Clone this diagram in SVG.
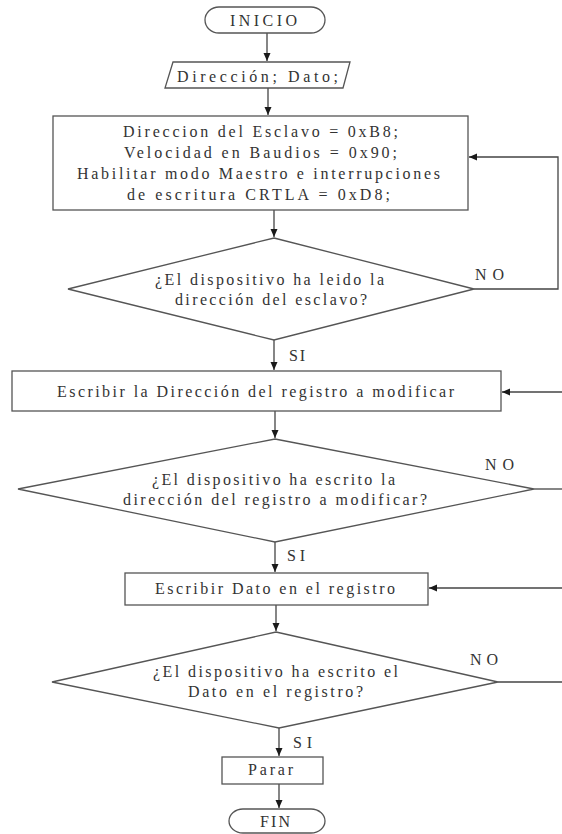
<svg xmlns="http://www.w3.org/2000/svg" width="562" height="834" viewBox="0 0 562 834">
<defs>
<marker id="arr" markerWidth="9" markerHeight="8" refX="8" refY="4" orient="auto" markerUnits="userSpaceOnUse">
<path d="M0,0.5 L8,4 L0,7.5 z" fill="#1a1a1a"/>
</marker>
<style>
.s{fill:#fff;stroke:#555;stroke-width:1.3}
.c{fill:none;stroke:#444;stroke-width:1.3}
.t{font-family:"Liberation Serif","Times New Roman",serif;font-size:16px;fill:#333;text-anchor:middle}
.l{font-family:"Liberation Serif","Times New Roman",serif;font-size:16px;fill:#333}
</style>
</defs>
<rect width="562" height="834" fill="#fff"/>
<g id="connectors">
<path class="c" d="M267,33 V61" marker-end="url(#arr)"/>
<path class="c" d="M268,88 V115" marker-end="url(#arr)"/>
<path class="c" d="M274,210 V237" marker-end="url(#arr)"/>
<path class="c" d="M274,340 V370" marker-end="url(#arr)"/>
<path class="c" d="M275,411 V438" marker-end="url(#arr)"/>
<path class="c" d="M275,542 V572" marker-end="url(#arr)"/>
<path class="c" d="M276,605 V631" marker-end="url(#arr)"/>
<path class="c" d="M279,728 V756" marker-end="url(#arr)"/>
<path class="c" d="M279,784 V808" marker-end="url(#arr)"/>
<path class="c" d="M474,289 H558 V157 H469" marker-end="url(#arr)"/>
<path class="c" d="M534,489 H562"/>
<path class="c" d="M562,392 H502" marker-end="url(#arr)"/>
<path class="c" d="M498,682 H562"/>
<path class="c" d="M562,588 H429" marker-end="url(#arr)"/>
<text class="l" x="475" y="280" textLength="29" lengthAdjust="spacing">NO</text>
<text class="l" x="289" y="361" textLength="16" lengthAdjust="spacing">SI</text>
<text class="l" x="485" y="470" textLength="29" lengthAdjust="spacing">NO</text>
<text class="l" x="287" y="561" textLength="18" lengthAdjust="spacing">SI</text>
<text class="l" x="470" y="665" textLength="28" lengthAdjust="spacing">NO</text>
<text class="l" x="293" y="748" textLength="19" lengthAdjust="spacing">SI</text>
</g>
<g id="inicio">
<rect class="s" x="205" y="7" width="120" height="26" rx="14" ry="13"/>
<text class="t" x="263.5" y="26" textLength="67" lengthAdjust="spacing">INICIO</text>
</g>
<g id="entrada">
<polygon class="s" points="173,62 350,62 343,88 165,88"/>
<text class="t" x="257.5" y="82" textLength="161" lengthAdjust="spacing">Dirección;  Dato;</text>
</g>
<g id="config">
<rect class="s" x="53" y="116" width="415" height="94"/>
<text class="t" x="260.5" y="137" textLength="275" lengthAdjust="spacing">Direccion del Esclavo = 0xB8;</text>
<text class="t" x="260.5" y="158" textLength="273" lengthAdjust="spacing">Velocidad en Baudios = 0x90;</text>
<text class="t" x="258.5" y="179" textLength="363" lengthAdjust="spacing">Habilitar modo Maestro e interrupciones</text>
<text class="t" x="258.5" y="200" textLength="263" lengthAdjust="spacing">de escritura  CRTLA = 0xD8;</text>
</g>
<g id="decision1">
<polygon class="s" points="274,238 474,289 274,340 68,289"/>
<text class="t" x="269.5" y="285" textLength="229" lengthAdjust="spacing">¿El dispositivo ha leido la</text>
<text class="t" x="271" y="305" textLength="192" lengthAdjust="spacing">dirección del esclavo?</text>
</g>
<g id="escribir-direccion">
<rect class="s" x="12" y="371" width="489" height="40"/>
<text class="t" x="255.5" y="397" textLength="397" lengthAdjust="spacing">Escribir la Dirección del registro a modificar</text>
</g>
<g id="decision2">
<polygon class="s" points="275,439 534,489 275,542 18,489"/>
<text class="t" x="273.5" y="485" textLength="243" lengthAdjust="spacing">¿El dispositivo ha escrito la</text>
<text class="t" x="275" y="505" textLength="304" lengthAdjust="spacing">dirección del registro a modificar?</text>
</g>
<g id="escribir-dato">
<rect class="s" x="125" y="573" width="303" height="32"/>
<text class="t" x="275" y="594" textLength="240" lengthAdjust="spacing">Escribir Dato en el registro</text>
</g>
<g id="decision3">
<polygon class="s" points="276,632 498,682 279,728 52,682"/>
<text class="t" x="275.5" y="677" textLength="245" lengthAdjust="spacing">¿El dispositivo ha escrito el</text>
<text class="t" x="275.5" y="697" textLength="175" lengthAdjust="spacing">Dato en el registro?</text>
</g>
<g id="parar">
<rect class="s" x="222" y="757" width="101" height="27"/>
<text class="t" x="270.5" y="775" textLength="45" lengthAdjust="spacing">Parar</text>
</g>
<g id="fin">
<rect class="s" x="229" y="809" width="96" height="24" rx="14" ry="12"/>
<text class="t" x="275" y="827" textLength="30" lengthAdjust="spacing">FIN</text>
</g>
</svg>
